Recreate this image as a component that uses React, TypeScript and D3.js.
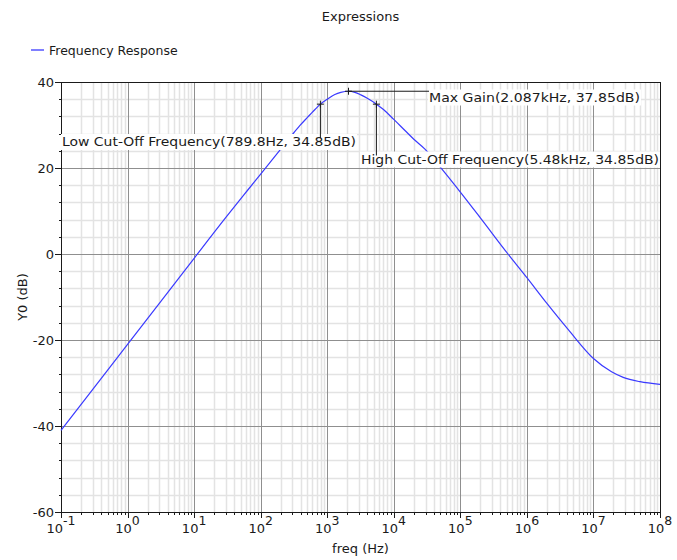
import React from "react";
import * as d3 from "d3";

// Frequency response samples (Hz, dB)
const freqHz = [
  0.1, 0.3, 1, 3, 10, 30, 65, 100, 200, 300, 390, 500, 655, 789.8, 1000, 1300,
  1600, 2087, 2600, 3200, 4000, 5480, 7000, 10000, 15000, 20000, 29400, 50000,
  100000, 200000, 520000, 1e6, 2e6, 4.19e6, 1e7, 1.87e7, 2.8e7, 5e7, 1e8,
];
const gainDb = [
  -41.0, -31.5, -21.0, -11.5, -1.0, 8.5, 15.0, 18.6, 24.4, 27.8, 29.9, 31.7,
  33.6, 34.85, 36.0, 37.1, 37.6, 37.85, 37.6, 37.0, 36.2, 34.85, 33.6, 31.3,
  28.6, 26.7, 24.4, 20.2, 14.4, 8.4, 0.0, -5.5, -11.5, -17.6, -24.3, -27.4,
  -28.7, -29.7, -30.3,
];

// Markers
const markerNames = ["Low Cut-Off Frequency", "Max Gain", "High Cut-Off Frequency"];
const markerFreq = [789.8, 2087, 5480];
const markerFreqText = ["789.8Hz", "2.087kHz", "5.48kHz"];
const markerGain = [34.85, 37.85, 34.85];

// Axis ticks
const xDecades = [-1, 0, 1, 2, 3, 4, 5, 6, 7, 8];
const yMajorTicks = [-60, -40, -20, 0, 20, 40];

const W = 677;
const H = 560;
const plot = { left: 61, right: 660, top: 82, bottom: 512 };
const FONT = "'DejaVu Sans', Verdana, sans-serif";

// Label placement for each marker: [textX, baseline, width, leader direction]
const labelLayout = [
  { x: 62, base: 146, len: 294, leader: "down" },
  { x: 429, base: 101.5, len: 211, leader: "right" },
  { x: 361, base: 163.5, len: 298, leader: "down" },
];

export default function App() {
  const x = d3.scaleLog().domain([0.1, 1e8]).range([plot.left, plot.right]);
  const y = d3.scaleLinear().domain([-60, 40]).range([plot.bottom, plot.top]);

  const minorX: number[] = [];
  for (const d of xDecades.slice(0, -1)) {
    for (let k = 2; k <= 9; k++) minorX.push(k * Math.pow(10, d));
  }
  const minorY: number[] = [];
  for (let v = -60; v <= 40; v += 4) if (v % 20 !== 0) minorY.push(v);

  const pts = freqHz.map((f, i) => [x(f), y(gainDb[i])] as [number, number]);
  const path = d3.line().curve(d3.curveMonotoneX)(pts) || "";

  const majorGrid = "#8f8f8f";
  const minorGrid = "#e3e3e3";
  const ink = "#1a1a1a";

  return (
    <svg
      width={W}
      height={H}
      style={{ position: "absolute", left: 0, top: 0, background: "#fff" }}
      fontFamily={FONT}
    >
      <rect x={0} y={0} width={W} height={H} fill="#fff" />
      <text x={360.5} y={20.5} fontSize={13} textAnchor="middle" fill={ink}>
        Expressions
      </text>

      {/* legend */}
      <line x1={31} x2={44} y1={50} y2={50} stroke="#3a3aff" strokeWidth={1.3} />
      <text x={49} y={54.5} fontSize={12.5} fill={ink}>
        Frequency Response
      </text>

      {/* minor grid */}
      {minorX.map((v, i) => (
        <line key={"mx" + i} x1={Math.round(x(v)) + 0.5} x2={Math.round(x(v)) + 0.5}
          y1={plot.top} y2={plot.bottom} stroke={minorGrid} strokeWidth={1.5} />
      ))}
      {minorY.map((v, i) => (
        <line key={"my" + i} y1={Math.round(y(v)) + 0.5} y2={Math.round(y(v)) + 0.5}
          x1={plot.left} x2={plot.right} stroke={minorGrid} strokeWidth={1.5} />
      ))}
      {/* major grid */}
      {xDecades.map((d) => (
        <line key={"Mx" + d} x1={Math.round(x(Math.pow(10, d))) + 0.5}
          x2={Math.round(x(Math.pow(10, d))) + 0.5}
          y1={plot.top} y2={plot.bottom} stroke={majorGrid} strokeWidth={1} />
      ))}
      {yMajorTicks.map((v) => (
        <line key={"My" + v} y1={Math.round(y(v)) + 0.5} y2={Math.round(y(v)) + 0.5}
          x1={plot.left} x2={plot.right} stroke={majorGrid} strokeWidth={1} />
      ))}

      {/* frame */}
      <rect x={plot.left + 0.5} y={plot.top + 0.5} width={plot.right - plot.left}
        height={plot.bottom - plot.top} fill="none" stroke={ink} strokeWidth={1} />

      {/* y ticks */}
      {minorY.map((v) => (
        <line key={"ty" + v} x1={plot.left - 2} x2={plot.left}
          y1={Math.round(y(v)) + 0.5} y2={Math.round(y(v)) + 0.5} stroke={ink} />
      ))}
      {yMajorTicks.map((v) => (
        <g key={"tY" + v}>
          <line x1={plot.left - 6} x2={plot.left}
            y1={Math.round(y(v)) + 0.5} y2={Math.round(y(v)) + 0.5} stroke={ink} />
          <text x={plot.left - 7} y={y(v) + 4.5} fontSize={13} textAnchor="end" fill={ink}>
            {v < 0 ? "-" + Math.abs(v) : String(v)}
          </text>
        </g>
      ))}

      {/* x ticks */}
      {minorX.map((v, i) => (
        <line key={"tx" + i} x1={Math.round(x(v)) + 0.5} x2={Math.round(x(v)) + 0.5}
          y1={plot.bottom} y2={plot.bottom + 3} stroke={ink} />
      ))}
      {xDecades.map((d) => (
        <g key={"tX" + d}>
          <line x1={Math.round(x(Math.pow(10, d))) + 0.5} x2={Math.round(x(Math.pow(10, d))) + 0.5}
            y1={plot.bottom} y2={plot.bottom + 6} stroke={ink} />
          <text x={x(Math.pow(10, d))} y={533} fontSize={13} textAnchor="middle" fill={ink}>
            10
            <tspan dy={-8} fontSize={12.5}>{d < 0 ? "-" + Math.abs(d) : String(d)}</tspan>
          </text>
        </g>
      ))}

      {/* axis titles */}
      <text x={360.5} y={553} fontSize={13} textAnchor="middle" fill={ink}>
        freq (Hz)
      </text>
      <text transform={`translate(26.5, ${(plot.top + plot.bottom) / 2}) rotate(-90)`}
        fontSize={13} textAnchor="middle" fill={ink}>
        Y0 (dB)
      </text>

      {/* curve */}
      <path d={path} fill="none" stroke="#3a3aff" strokeWidth={1.2} />

      {/* markers with labels */}
      {markerNames.map((name, i) => {
        const mx = x(markerFreq[i]);
        const my = y(markerGain[i]);
        const L = labelLayout[i];
        const label = `${name}(${markerFreqText[i]}, ${markerGain[i].toFixed(2)}dB)`;
        const top = L.base - 12;
        return (
          <g key={"m" + i}>
            <rect x={L.x - 1} y={top} width={L.len + 2} height={16} fill="#fff" />
            {L.leader === "down" ? (
              <line x1={mx} x2={mx} y1={my} y2={top + 4} stroke={ink} strokeWidth={1} />
            ) : (
              <line x1={mx} x2={L.x} y1={my} y2={my} stroke={ink} strokeWidth={1} />
            )}
            <line x1={mx - 3.5} x2={mx + 3.5} y1={my} y2={my} stroke={ink} strokeWidth={1} />
            <line x1={mx} x2={mx} y1={my - 3.5} y2={my + 3.5} stroke={ink} strokeWidth={1} />
            <text x={L.x} y={L.base} fontSize={13} textLength={L.len}
              lengthAdjust="spacingAndGlyphs" fill={ink}>
              {label}
            </text>
          </g>
        );
      })}
    </svg>
  );
}
